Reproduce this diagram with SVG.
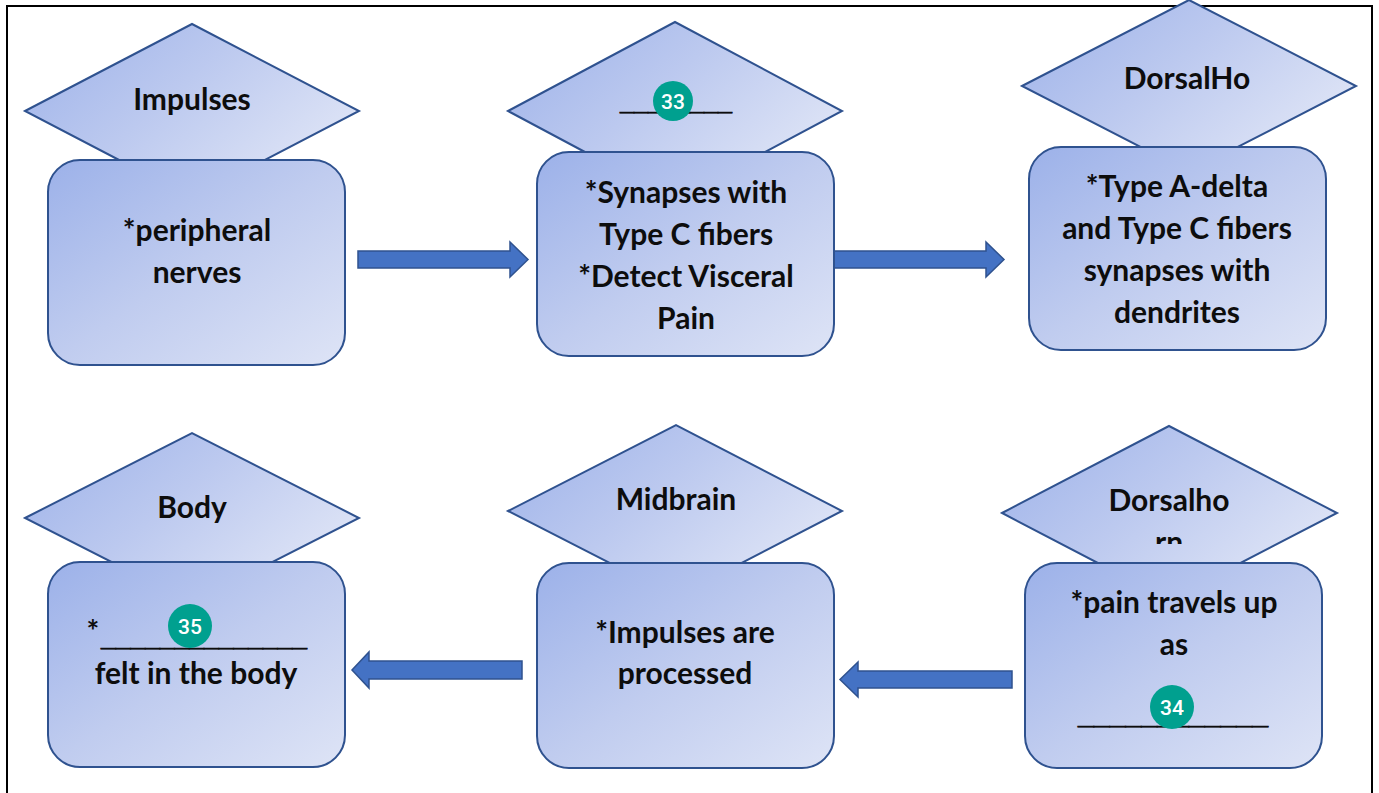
<svg xmlns="http://www.w3.org/2000/svg" width="1379" height="793" viewBox="0 0 1379 793">
<defs>
<linearGradient id="g" x1="0" y1="0" x2="1" y2="1">
<stop offset="0" stop-color="#9CB1E9"/>
<stop offset="0.5" stop-color="#C0CCEF"/>
<stop offset="1" stop-color="#DEE4F6"/>
</linearGradient>
<linearGradient id="gd" x1="0" y1="0" x2="1" y2="0.6">
<stop offset="0" stop-color="#9CB1E9"/>
<stop offset="0.5" stop-color="#BCC9EF"/>
<stop offset="1" stop-color="#DEE4F6"/>
</linearGradient>
<clipPath id="clipD6"><rect x="1000" y="420" width="340" height="124"/></clipPath>
<style>
.shape{fill:url(#g);stroke:#2F528F;stroke-width:2}
.dia{fill:url(#gd);stroke:#2F528F;stroke-width:2}
.t{font-family:Lato,"Open Sans","Liberation Sans",sans-serif;font-weight:bold;font-size:30px;fill:#0d0d0d;text-anchor:middle}
.u{font-family:"Liberation Sans",Arial,sans-serif;font-weight:bold;font-size:28px;fill:#0d0d0d;stroke:#0d0d0d;stroke-width:0.8;text-anchor:middle}
.arrow{fill:#4472C4;stroke:#2F528F;stroke-width:1.5}
.badge{fill:#00A08F}
.bt{font-family:Roboto,"Liberation Sans",sans-serif;font-weight:500;font-size:21px;fill:#ffffff;text-anchor:middle}
</style>
</defs>
<rect x="0" y="0" width="1379" height="793" fill="#ffffff"/>
<rect x="7" y="6" width="1365" height="800" fill="none" stroke="#000000" stroke-width="2"/>

<g id="connectors">
<polygon class="arrow" points="358,251 510,251 510,242 528,259.5 510,277 510,268 358,268"/>
<polygon class="arrow" points="834,251 986,251 986,242 1004,259.5 986,277 986,268 834,268"/>
<polygon class="arrow" points="1012,671 858,671 858,662 840,679.5 858,697 858,688 1012,688"/>
<polygon class="arrow" points="522,661 369,661 369,652 352,670 369,688 369,679 522,679"/>
</g>

<g id="node1">
<polygon class="dia" points="25,111 192,24 359,111 192,198"/>
<rect class="shape" x="48" y="160" width="297" height="205" rx="32"/>
<text class="t" x="192" y="110">Impulses</text>
<text class="t" x="197" y="241">*peripheral</text>
<text class="t" x="197" y="283">nerves</text>
</g>

<g id="node2">
<polygon class="dia" points="508,111 675,22 842,111 675,200"/>
<rect class="shape" x="537" y="152" width="297" height="204" rx="32"/>
<text class="u" x="676" y="110" textLength="112" lengthAdjust="spacingAndGlyphs">________</text>
<circle class="badge" cx="673" cy="101" r="20"/>
<text class="bt" x="673" y="108.5">33</text>
<text class="t" x="686" y="203">*Synapses with</text>
<text class="t" x="686" y="245">Type C fibers</text>
<text class="t" x="686" y="287">*Detect Visceral</text>
<text class="t" x="686" y="329">Pain</text>
</g>

<g id="node3">
<polygon class="dia" points="1022,86 1189,0 1356,86 1189,172"/>
<rect class="shape" x="1029" y="147" width="297" height="203" rx="32"/>
<text class="t" x="1187" y="89">DorsalHo</text>
<text class="t" x="1177" y="197">*Type A-delta</text>
<text class="t" x="1177" y="239">and Type C fibers</text>
<text class="t" x="1177" y="281">synapses with</text>
<text class="t" x="1177" y="323">dendrites</text>
</g>

<g id="node4">
<polygon class="dia" points="25,518 192,433 359,518 192,603"/>
<rect class="shape" x="48" y="562" width="297" height="205" rx="32"/>
<text class="t" x="192" y="518">Body</text>
<text class="t" x="93" y="642">*</text>
<text class="u" x="204" y="646" textLength="206" lengthAdjust="spacingAndGlyphs">______________</text>
<circle class="badge" cx="190" cy="626" r="22"/>
<text class="bt" x="190" y="634">35</text>
<text class="t" x="196" y="684">felt in the body</text>
</g>

<g id="node5">
<polygon class="dia" points="508,511 676,425 842,511 676,597"/>
<rect class="shape" x="537" y="563" width="297" height="205" rx="32"/>
<text class="t" x="676" y="510">Midbrain</text>
<text class="t" x="685" y="643">*Impulses are</text>
<text class="t" x="685" y="684">processed</text>
</g>

<g id="node6">
<polygon class="dia" points="1002,513 1169,426 1337,513 1169,600"/>
<rect class="shape" x="1025" y="563" width="297" height="205" rx="32"/>
<text class="t" x="1169" y="511">Dorsalho</text>
<text class="t" x="1169" y="553" clip-path="url(#clipD6)">rn</text>
<text class="t" x="1174" y="613">*pain travels up</text>
<text class="t" x="1174" y="655">as</text>
<text class="u" x="1173" y="724" textLength="190" lengthAdjust="spacingAndGlyphs">____________</text>
<circle class="badge" cx="1172" cy="707" r="22"/>
<text class="bt" x="1172" y="715">34</text>
</g>
</svg>
